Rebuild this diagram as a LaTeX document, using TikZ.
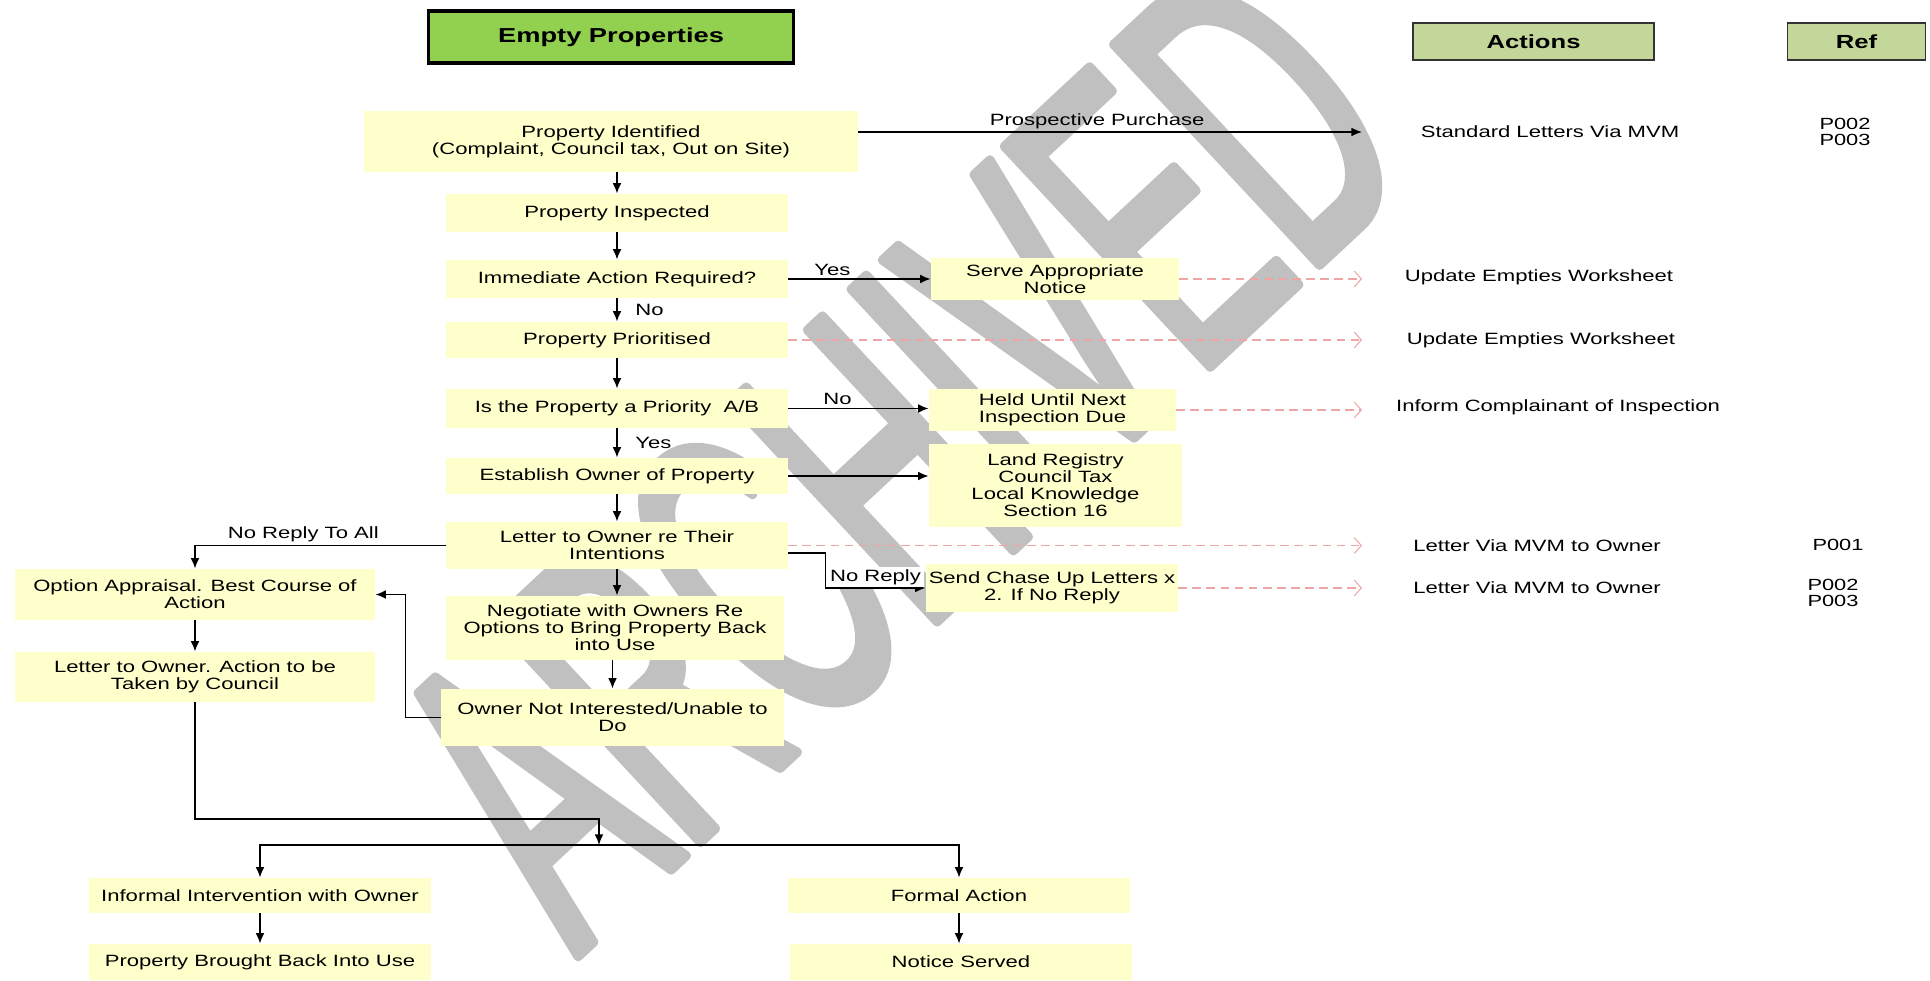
\documentclass[tikz,border=0pt]{standalone}
\usepackage{fontspec}
\setmainfont[FakeStretch=1.35]{Liberation Sans}
\newfontfamily\wmfont[FakeStretch=0.51]{Liberation Sans}
\usetikzlibrary{arrows.meta}

\definecolor{boxyellow}{RGB}{255,255,204}
\definecolor{titlegreen}{RGB}{146,208,80}
\definecolor{headgreen}{RGB}{196,215,155}
\definecolor{dashpink}{RGB}{240,165,165}
\definecolor{wmgray}{RGB}{192,192,192}
% 透かし文字（角を丸める）
\newcommand{\roundtext}[1]{\special{pdf:literal direct 2 Tr 5 w 1 j 0.753 0.753 0.753 RG}#1\special{pdf:literal direct 0 Tr}}

\begin{document}
\begin{tikzpicture}[
 flowbox/.style 2 args={fill=boxyellow, minimum width=#1cm, minimum height=#2cm, inner sep=0pt, align=center, font=\fontsize{9.3}{9.7}\selectfont},
 headbox/.style 2 args={draw=black!80, fill=headgreen, line width=0.8pt, minimum width=#1cm, minimum height=#2cm, inner sep=0pt, font=\bfseries\fontsize{10.8}{12}\selectfont},
 acttext/.style={inner sep=0pt, align=center, font=\fontsize{9.3}{9.7}\selectfont},
 reftext/.style={inner sep=0pt, align=center, font=\fontsize{9.2}{9.1}\selectfont},
 lbl/.style={inner sep=1.5pt, font=\fontsize{9.3}{9.7}\selectfont},
 wlbl/.style={lbl, fill=white},
 arr/.style={line width=0.9pt, -{Latex[length=6pt,width=5pt]}},
 dasharr/.style={draw=dashpink, line width=0.6pt, dash pattern=on 5pt off 3pt, -{Straight Barb[length=4pt,width=9pt]}},
]
 \useasboundingbox (0,0) rectangle (38.6,19.6); %全体の大きさ

 \node[text=wmgray, rotate=43, anchor=base west, inner sep=0pt, font=\wmfont\fontsize{250}{250}\selectfont] (wm) at (11.55,0.45) {\roundtext{ARCHIVED}}; %透かし

 \node[draw=black, line width=2.2pt, fill=titlegreen, minimum width=7.3cm, minimum height=1.04cm, font=\bfseries\fontsize{11.5}{12}\selectfont] (title) at (12.22,18.86) {Empty Properties}; %タイトル
 \node[headbox={4.82}{0.74}] (acthead) at (30.67,18.77) {Actions};
 \node[headbox={2.76}{0.74}] (refhead) at (37.13,18.77) {Ref};

 \node[flowbox={9.88}{1.22}] (ident) at (12.22,16.77) {Property Identified\\(Complaint, Council tax, Out on Site)};
 \node[flowbox={6.84}{0.76}] (insp) at (12.34,15.34) {Property Inspected};
 \node[flowbox={6.84}{0.76}] (immed) at (12.34,14.02) {Immediate Action Required?};
 \node[flowbox={6.84}{0.72}] (prior) at (12.34,12.80) {Property Prioritised};
 \node[flowbox={6.84}{0.78}] (prio) at (12.34,11.43) {Is the Property a Priority~ A/B};
 \node[flowbox={6.84}{0.72}] (owner) at (12.34,10.08) {Establish Owner of Property};
 \node[flowbox={6.84}{0.94}] (letter) at (12.34,8.69) {Letter to Owner re Their\\Intentions};
 \node[flowbox={6.76}{1.28}] (negot) at (12.30,7.04) {Negotiate with Owners Re\\Options to Bring Property Back\\into Use};
 \node[flowbox={6.86}{1.14}] (notint) at (12.25,5.25) {Owner Not Interested/Unable to\\Do};

 \node[flowbox={4.96}{0.84}] (serve) at (21.10,14.02) {Serve Appropriate\\Notice};
 \node[flowbox={4.94}{0.84}] (held) at (21.05,11.40) {Held Until Next\\Inspection Due};
 \node[flowbox={5.06}{1.66}] (land) at (21.11,9.89) {Land Registry\\Council Tax\\Local Knowledge\\Section 16};
 \node[flowbox={5.04}{0.96}] (chase) at (21.04,7.84) {Send Chase Up Letters x\\2. If No Reply};

 \node[flowbox={7.2}{1.02}] (option) at (3.90,7.71) {Option Appraisal. Best Course of\\Action};
 \node[flowbox={7.2}{1.0}] (council) at (3.90,6.06) {Letter to Owner. Action to be\\Taken by Council};

 \node[flowbox={6.84}{0.70}] (informal) at (5.20,1.69) {Informal Intervention with Owner};
 \node[flowbox={6.84}{0.72}] (brought) at (5.20,0.36) {Property Brought Back Into Use};
 \node[flowbox={6.84}{0.70}] (formal) at (19.18,1.69) {Formal Action};
 \node[flowbox={6.84}{0.72}] (served) at (19.22,0.36) {Notice Served};

 \node[acttext] (std) at (31.00,16.96) {Standard Letters Via MVM};
 \node[acttext] (upd1) at (30.78,14.06) {Update Empties Worksheet};
 \node[acttext] (upd2) at (30.82,12.80) {Update Empties Worksheet};
 \node[acttext] (inform) at (31.16,11.46) {Inform Complainant of Inspection};
 \node[acttext] (via1) at (30.74,8.68) {Letter Via MVM to Owner};
 \node[acttext] (via2) at (30.74,7.84) {Letter Via MVM to Owner};
 \node[reftext] (refa) at (36.90,16.96) {P002\\P003};
 \node[reftext] (refb) at (36.76,8.70) {P001};
 \node[reftext] (refc) at (36.66,7.74) {P002\\P003};

 \coordinate (actcol) at (27.24,0); %矢印の終わるx
 \coordinate (bend) at (11.98,3.22); %折れ点
 \coordinate (merge) at (11.98,2.70); %分岐点

 \draw[arr] (insp.north |- ident.south) -- (insp.north);
 \draw[arr] (insp) -- (immed);
 \draw[arr] (immed) -- node[lbl, right=0.3cm] (lblno1) {No} (prior);
 \draw[arr] (prior) -- (prio);
 \draw[arr] (prio) -- node[lbl, right=0.3cm] (lblyes2) {Yes} (owner);
 \draw[arr] (owner) -- (letter);
 \draw[arr] (letter.south) -- (letter.south |- negot.north);
 \draw[arr] (notint.north |- negot.south) -- (notint.north);

 \draw[arr] (ident.east |- std) -- node[lbl, pos=0.474, above] (lblpp) {Prospective Purchase} (std -| actcol);
 \draw[arr] (immed) -- node[wlbl, pos=0.31, above] (lblyes1) {Yes} (serve);
 \draw[arr] (prio.east) -- node[wlbl, pos=0.35, above] (lblno2) {No} (held.west |- prio.east);
 \draw[arr] (owner.east) -- (land.west |- owner.east);
 \draw[arr] (letter.west) -| node[wlbl, pos=0.284, above] (lblnrall) {No Reply To All} (option.north);
 \draw[arr] ([yshift=-0.15cm]letter.east) -- ++(0.74,0) |- node[wlbl, pos=0.75, above] (lblnr) {No Reply} (chase.west);
 \draw[arr] (notint.west) -- ++(-0.7,0) |- (option.east);
 \draw[arr] (option) -- (council);
 \draw[arr] (council.south) |- (bend) -- (merge);
 \draw[arr] (merge) -| (informal.north);
 \draw[arr] (merge) -| (formal.north);
 \draw[arr] (informal) -- (brought);
 \draw[arr] (formal.south) -- (formal.south |- served.north);

 \draw[dasharr] (serve.east) -- (serve.east -| actcol);
 \draw[dasharr] (prior.east) -- (prior.east -| actcol);
 \draw[dasharr] (held.east) -- (held.east -| actcol);
 \draw[dasharr] (letter.east) -- (letter.east -| actcol);
 \draw[dasharr] (chase.east) -- (chase.east -| actcol);
\end{tikzpicture}
\end{document}
